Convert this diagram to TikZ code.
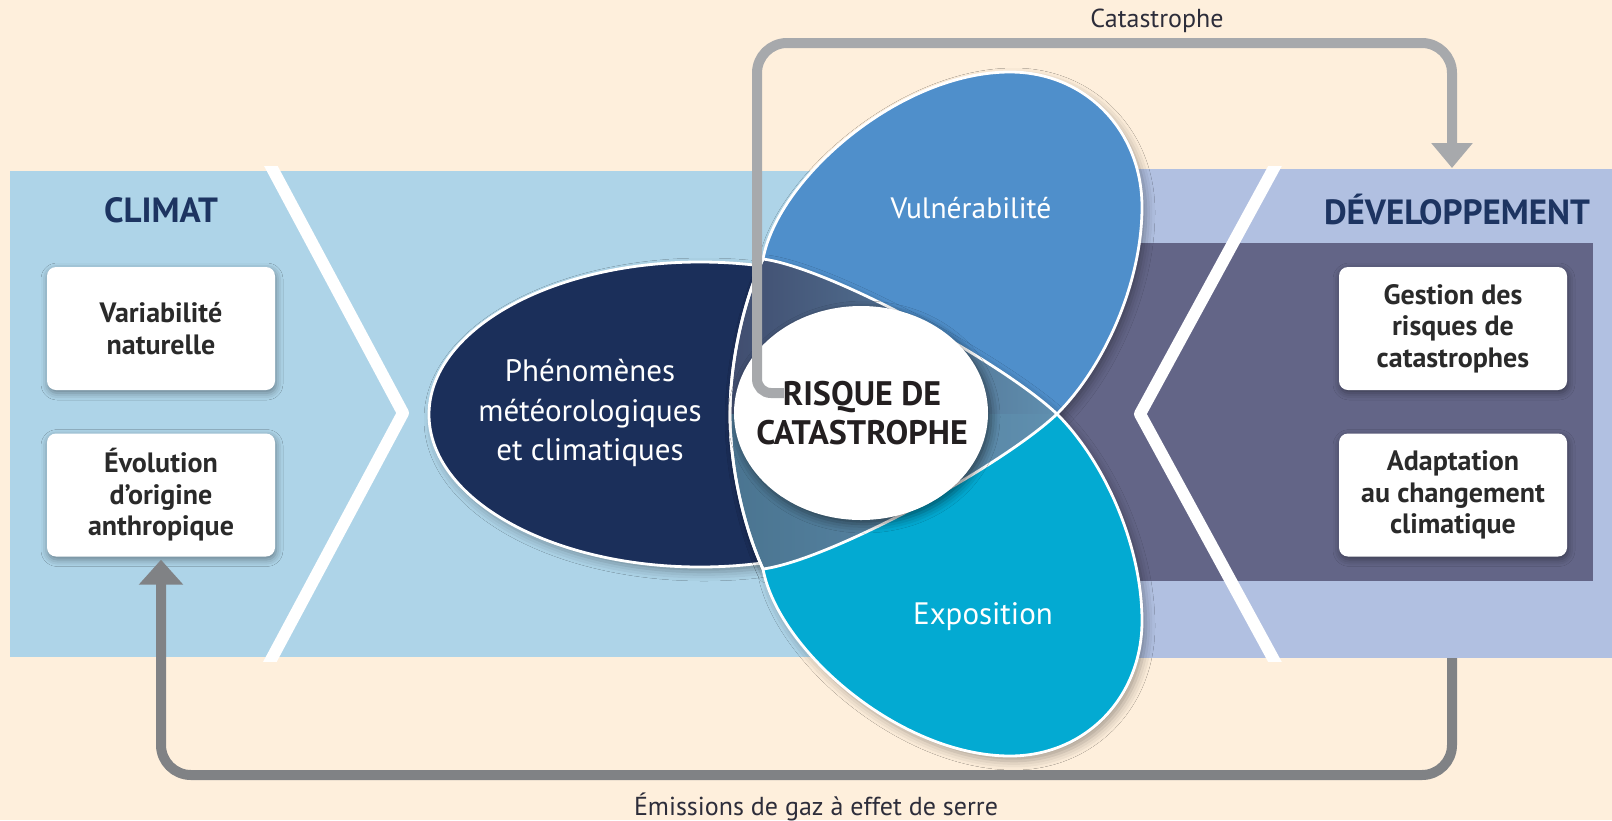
\documentclass[tikz,border=0pt]{standalone}
\usepackage{fontspec}
\setmainfont{PT Sans}
\usetikzlibrary{arrows.meta,shadows.blur,shapes.geometric}
\definecolor{cream}{HTML}{FEEFDC}
\definecolor{bandL}{HTML}{AED4E8}
\definecolor{bandR}{HTML}{B1C0E1}
\definecolor{darkR}{HTML}{636587}
\definecolor{navyA}{HTML}{1B2F5A}
\definecolor{blueB}{HTML}{4F8FCB}
\definecolor{cyanC}{HTML}{03AAD2}
\definecolor{lensTL}{HTML}{404C6E}
\definecolor{lensBL}{HTML}{4A7490}
\definecolor{lensR}{HTML}{6090B0}
\definecolor{headc}{HTML}{1D3461}
\definecolor{boxtxt}{HTML}{2A2A2A}
\definecolor{grayT}{HTML}{A7A9AC}
\definecolor{grayB}{HTML}{808285}
\definecolor{labc}{HTML}{2D2D3A}
\definecolor{risktxt}{HTML}{231F20}

\tikzset{
 chev/.style={draw=white, line width=12pt, line join=round},
 box/.style={fill=white, rounded corners=9pt, minimum width=228pt, minimum height=123pt, inner sep=0pt,
   align=center, text=boxtxt, font=\bfseries\fontsize{28}{31.5}\selectfont,
   blur shadow={shadow xshift=1pt, shadow yshift=-3pt, shadow blur radius=7pt, shadow opacity=40}},
 head/.style={text=headc, font=\bfseries\fontsize{35}{40}\selectfont},
 petal/.style={draw=white, line width=2.8pt},
 pshadow/.style={blur shadow={shadow xshift=4pt, shadow yshift=-5pt, shadow blur radius=9pt, shadow opacity=35}},
 plabel/.style={text=white, align=center, font=\fontsize{31}{39.5}\selectfont},
 riskshape/.style={ellipse, fill=white, minimum width=254pt, minimum height=214pt, inner sep=0pt,
   blur shadow={shadow xshift=3pt, shadow yshift=-4pt, shadow blur radius=9pt, shadow opacity=50}},
 risklabel/.style={text=risktxt, align=center, font=\bfseries\fontsize{34}{39}\selectfont},
 toparrow/.style={draw=grayT, line width=10pt, -{Triangle[width=40pt,length=25pt]}},
 botarrow/.style={draw=grayB, line width=10pt, rounded corners=30pt, -{Triangle[width=43pt,length=25pt]}},
 lab/.style={text=labc, font=\fontsize{26}{30}\selectfont, anchor=base},
 Bshape/.style={insert path={(1010,72) .. controls (1085,72) and (1142,130) .. (1142,207)
   .. controls (1142,282) and (1105,366) .. (1057,414)
   .. controls (1002,466) and (830,560) .. (763,569)
   .. controls (745,530) and (730,470) .. (730,414)
   .. controls (730,358) and (745,298) .. (763,259)
   .. controls (778,178) and (900,72) .. (1010,72) -- cycle}},
 Cshape/.style={insert path={(1010,756) .. controls (1085,756) and (1142,698) .. (1142,621)
   .. controls (1142,546) and (1105,462) .. (1057,414)
   .. controls (1002,362) and (830,268) .. (763,259)
   .. controls (745,298) and (730,358) .. (730,414)
   .. controls (730,470) and (745,530) .. (763,569)
   .. controls (778,650) and (900,756) .. (1010,756) -- cycle}},
}

\begin{document}
\begin{tikzpicture}[x=1pt,y=-1pt]
\useasboundingbox (0,0) rectangle (1612,820);
\fill[cream] (0,0) rectangle (1612,820);
% bands
\fill[bandL] (10,171) rectangle (1000,657);
\fill[bandR] (1000,169) rectangle (1612,658);
\fill[darkR] (1000,243) rectangle (1593,581);
\begin{scope}
  \clip (0,166) rectangle (1612,661);
  \draw[chev] (265,155) -- (403,413) -- (265,671);
  \draw[chev] (1281,155) -- (1140,414) -- (1281,673);
\end{scope}

% headers
\node[head] (climat) at (161,210) {CLIMAT};
\node[head] (dev) at (1457,210) {DÉVELOPPEMENT};

% boxes
\node[box] (vn) at (161,328.5) {Variabilité\\naturelle};
\node[box] (eo) at (161,495) {Évolution\\d’origine\\anthropique};
\node[box] (gr) at (1453,328.5) {Gestion des\\risques de\\catastrophes};
\node[box] (ad) at (1453,495) {Adaptation\\au changement\\climatique};

% petals
\fill[navyA, pshadow] (700,414.5) ellipse [x radius=271, y radius=152.5];
\draw[petal] (700,414.5) ellipse [x radius=271, y radius=152.5];
\fill[blueB, pshadow, Bshape];
\fill[cyanC, pshadow, Cshape];
\begin{scope}
  \clip[Bshape];
  \clip[Cshape];
  \fill[left color=lensTL, right color=lensR] (725,240) rectangle (1065,414);
  \fill[left color=lensBL, right color=lensR] (725,414) rectangle (1065,590);
\end{scope}
\draw[petal, Bshape];
\draw[petal, Cshape];

% centre
\node[riskshape] (risk) at (861,413) {};
\node[risklabel] (risktext) at (862,413) {RISQUE DE\\CATASTROPHE};

% petal labels
\node[plabel] (phen) at (590,413) {Phénomènes\\météorologiques\\et climatiques};
\node[plabel, font=\fontsize{29.5}{36}\selectfont] (vul) at (971,208) {Vulnérabilité};
\node[plabel] (expo) at (983,617) {Exposition};

% connectors
\coordinate (catS) at (784,393);
\coordinate (devT) at (1452,168);
\coordinate (devB) at (1452,658);
\draw[toparrow] (catS) [rounded corners=14pt] -- (757,393) [rounded corners=30pt] -- (757,43) -- (1452,43) [sharp corners] -- (devT);
\draw[botarrow] (devB) -- ++(0,117) -| ([yshift=-3pt]eo.south);

% labels
\node[lab] (catlab) at (1157,27) {Catastrophe};
\node[lab] (emilab) at (816,815) {Émissions de gaz à effet de serre};
\end{tikzpicture}
\end{document}
